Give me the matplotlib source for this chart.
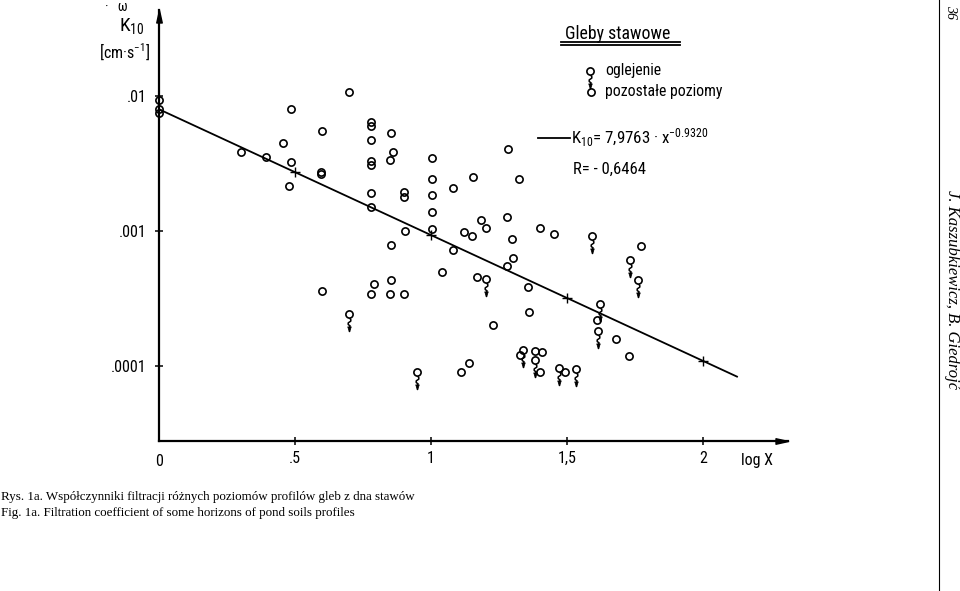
import numpy as np
import matplotlib
matplotlib.use("Agg")
import matplotlib.pyplot as plt
from matplotlib.path import Path
from matplotlib.lines import Line2D
from matplotlib import font_manager as fm

# ---------------- data ----------------
log_x_other = [0.0, 0.0, 0.0, 0.301, 0.392, 0.456, 0.484, 0.484, 0.478, 0.600,
               0.596, 0.596, 0.700, 0.779, 0.779, 0.779, 0.779, 0.779, 0.779, 0.779,
               0.852, 0.861, 0.850, 0.902, 0.902, 0.903, 0.852, 1.003, 1.003, 1.003,
               1.003, 1.003, 1.082, 1.153, 1.283, 1.322, 1.183, 1.279, 1.201, 1.122,
               1.152, 1.299, 1.402, 1.452, 1.082, 1.301, 1.279, 1.040, 1.170, 1.357,
               1.360, 1.228, 1.771, 1.612, 1.680, 1.729, 1.327, 1.381, 1.409, 1.400,
               1.139, 1.109, 1.494, 0.598, 0.790, 0.852, 0.780, 0.849, 0.901]
k_other = [9.34e-3, 7.97e-3, 7.44e-3, 3.85e-3, 3.51e-3, 4.51e-3, 8.01e-3, 3.23e-3, 2.17e-3, 5.48e-3,
           2.75e-3, 2.64e-3, 1.076e-2, 6.45e-3, 6.00e-3, 4.72e-3, 3.32e-3, 3.08e-3, 1.92e-3, 1.51e-3,
           5.32e-3, 3.87e-3, 3.37e-3, 1.94e-3, 1.80e-3, 1.00e-3, 7.87e-4, 3.46e-3, 2.42e-3, 1.85e-3,
           1.39e-3, 1.03e-3, 2.07e-3, 2.51e-3, 4.05e-3, 2.44e-3, 1.21e-3, 1.26e-3, 1.06e-3, 9.89e-4,
           9.23e-4, 8.68e-4, 1.06e-3, 9.54e-4, 7.26e-4, 6.33e-4, 5.53e-4, 4.97e-4, 4.54e-4, 3.87e-4,
           2.52e-4, 2.00e-4, 7.70e-4, 2.20e-4, 1.58e-4, 1.19e-4, 1.21e-4, 1.30e-4, 1.27e-4, 8.98e-5,
           1.05e-4, 8.98e-5, 8.98e-5, 3.57e-4, 4.07e-4, 4.34e-4, 3.41e-4, 3.41e-4, 3.41e-4]

log_x_gley = [1.592, 1.733, 1.762, 1.622, 1.614, 1.339, 1.381, 1.472, 1.532, 0.950, 1.202, 0.699]
k_gley = [9.14e-4, 6.10e-4, 4.34e-4, 2.90e-4, 1.82e-4, 1.31e-4, 1.11e-4, 9.61e-5, 9.55e-5, 8.98e-5,
          4.39e-4, 2.43e-4]

fit_a = 7.9763e-3      # K10 = 7,9763 * x^-0.9320 (K in 10^-3 cm/s)
fit_b = -0.9320
fit_r = -0.6464
fit_logx_range = [0.0, 2.125]
fit_marks_logx = [0.5, 1.0, 1.5, 2.0]

x_ticks = [0.5, 1.0, 1.5, 2.0]
x_tick_labels = [".5", "1", "1,5", "2"]
y_ticks = [1e-2, 1e-3, 1e-4]
y_tick_labels = [".01", ".001", ".0001"]

caption_pl = "Rys. 1a. Współczynniki filtracji różnych poziomów profilów gleb z dna stawów"
caption_en = "Fig. 1a. Filtration coefficient of some horizons of pond soils profiles"
authors = "J. Kaszubkiewicz, B. Giedrojć"
page_no = "36"

# ---------------- fonts ----------------
names = {f.name for f in fm.fontManager.ttflist}
if "Liberation Sans Narrow" in names:
    SANS = "Liberation Sans Narrow"
elif "Roboto Condensed" in names:
    SANS = "Roboto Condensed"
else:
    SANS = "Liberation Sans"
SERIF = "Liberation Serif"
plt.rcParams["font.family"] = [SANS, "DejaVu Sans"]
plt.rcParams["mathtext.fontset"] = "custom"
plt.rcParams["mathtext.rm"] = SANS

W, H = 960, 591
fig = plt.figure(figsize=(W / 100, H / 100), dpi=100)

def fx(px):
    return px / W

def fy(py):
    return 1 - py / H

# axes geometry (pixels): origin (159,441), 1 unit logX = 272 px, 1 decade = 135 px
X0, Y0 = 159, 441
XR, YT = 788, 10
ax = fig.add_axes([fx(X0), fy(Y0), (XR - X0) / W, (Y0 - YT) / H])
ax.set_xlim(0, (XR - X0) / 272)
ax.set_yscale("log")
ax.set_ylim(10 ** (-2 - (Y0 - 96) / 135), 10 ** (-2 + (96 - YT) / 135))
ax.patch.set_alpha(0)

for s in ("top", "right"):
    ax.spines[s].set_visible(False)
for s in ("left", "bottom"):
    ax.spines[s].set_linewidth(1.6)

ax.minorticks_off()
ax.set_xticks(x_ticks)
ax.set_xticklabels(x_tick_labels)
ax.set_yticks(y_ticks)
ax.set_yticklabels(y_tick_labels)
ax.yaxis.set_minor_locator(matplotlib.ticker.NullLocator())
ax.tick_params(axis="both", direction="inout", width=1.1, labelsize=11.5, colors="black")
ax.tick_params(axis="x", length=6, pad=4)
ax.tick_params(axis="y", length=5.5, pad=6)

# axis arrowheads
arrow_r = Path([(-1, -0.22), (0, 0), (-1, 0.22), (-1, -0.22)],
               [Path.MOVETO, Path.LINETO, Path.LINETO, Path.CLOSEPOLY])
arrow_u = Path([(-0.22, -1), (0, 0), (0.22, -1), (-0.22, -1)],
               [Path.MOVETO, Path.LINETO, Path.LINETO, Path.CLOSEPOLY])
ax.plot([1], [0], transform=ax.transAxes, marker=arrow_r, ms=18, color="black", clip_on=False)
ax.plot([0], [1], transform=ax.transAxes, marker=arrow_u, ms=18, color="black", clip_on=False)

# "0" at origin and axis name
ax.text(0, -0.03, "0", transform=ax.get_xaxis_transform(), ha="center", va="top", fontsize=11.5)
ax.text(2.2, -0.028, "log X", transform=ax.get_xaxis_transform(), ha="center", va="top", fontsize=11.5)

# regression line
lx = np.linspace(fit_logx_range[0], fit_logx_range[1], 20)
ax.plot(lx, fit_a * (10 ** lx) ** fit_b, color="black", lw=1.3, clip_on=False, zorder=3)
mx = np.array(fit_marks_logx)
ax.plot(mx, fit_a * (10 ** mx) ** fit_b, ls="none", marker="+", ms=7, mew=1.0, color="black", zorder=3)

# markers
circ_kw = dict(ls="none", marker="o", ms=5.2, mfc="none", mec="black", mew=1.2, zorder=4)
ax.plot(log_x_other, k_other, clip_on=False, **circ_kw)

L = 17.5
wig = Path([(0, -3.6), (1.3, -5.0), (1.3, -6.6), (-1.3, -8.4), (-1.3, -10.0), (0.6, -11.4),
            (0, -12.8), (0, -L)])
head = Path([(-1.8, -12.4), (1.8, -12.4), (0, -L), (-1.8, -12.4)],
            [Path.MOVETO, Path.LINETO, Path.LINETO, Path.CLOSEPOLY])
gms = 2 * L * 0.72
wig_kw = dict(ls="none", marker=wig, ms=gms, mfc="none", mec="black", mew=1.1, zorder=4)
head_kw = dict(ls="none", marker=head, ms=gms, mfc="black", mec="black", mew=0.5, zorder=4)
ax.plot(log_x_gley, k_gley, clip_on=False, **circ_kw)
ax.plot(log_x_gley, k_gley, clip_on=False, **wig_kw)
ax.plot(log_x_gley, k_gley, clip_on=False, **head_kw)

# ---------------- y-axis title ----------------
fig.text(fx(116), fy(7), "·   ω", fontsize=10, ha="center", va="center")
fig.text(fx(132), fy(26), r"K$\mathregular{_{10}}$", fontsize=14, ha="center", va="center")
fig.text(fx(125), fy(52), r"[cm·s$\mathregular{^{-1}}$]", fontsize=11.5, ha="center", va="center")

# ---------------- legend block ----------------
fig.text(fx(565), fy(34), "Gleby stawowe", fontsize=12.8, ha="left", va="center")
for yy in (42.3, 44.8):
    fig.add_artist(Line2D([fx(561), fx(680)], [fy(yy), fy(yy)], lw=1.3, color="black"))
lt = fig.transFigure
ax.plot([fx(590)], [fy(70.5)], transform=lt, clip_on=False, **circ_kw)
ax.plot([fx(590)], [fy(70.5)], transform=lt, clip_on=False, **wig_kw)
ax.plot([fx(590)], [fy(70.5)], transform=lt, clip_on=False, **head_kw)
ax.plot([fx(590.5)], [fy(91.5)], transform=lt, clip_on=False, **circ_kw)
fig.text(fx(605), fy(71), "oglejenie", fontsize=11.3, ha="left", va="center")
fig.text(fx(605), fy(92), "pozostałe poziomy", fontsize=11.3, ha="left", va="center")

fig.add_artist(Line2D([fx(538), fx(570)], [fy(138), fy(138)], lw=1.3, color="black"))
fig.text(fx(571), fy(138),
         r"K$\mathregular{_{10}}$= 7,9763 · x$\mathregular{^{-0.9320}}$".replace("0.9320", f"{-fit_b:.4f}"),
         fontsize=12.2, ha="left", va="center")
fig.text(fx(573), fy(169), "R= " + f"{fit_r:.4f}".replace(".", ",").replace("-", "- "),
         fontsize=12, ha="left", va="center")

# ---------------- caption ----------------
fig.text(fx(1), fy(497), caption_pl, family=SERIF, fontsize=9.35, ha="left", va="center")
fig.text(fx(1), fy(513), caption_en, family=SERIF, fontsize=9.35, ha="left", va="center")

# ---------------- page margin ----------------
fig.add_artist(Line2D([fx(939), fx(939)], [0, 1], lw=0.8, color="black"))
fig.text(fx(951), fy(12), page_no, family=SERIF, style="italic", fontsize=10,
         rotation=-90, ha="center", va="center")
fig.text(fx(952), fy(290), authors, family=SERIF, style="italic", fontsize=12,
         rotation=-90, ha="center", va="center")

fig.savefig("out.png", dpi=100, facecolor="white")
